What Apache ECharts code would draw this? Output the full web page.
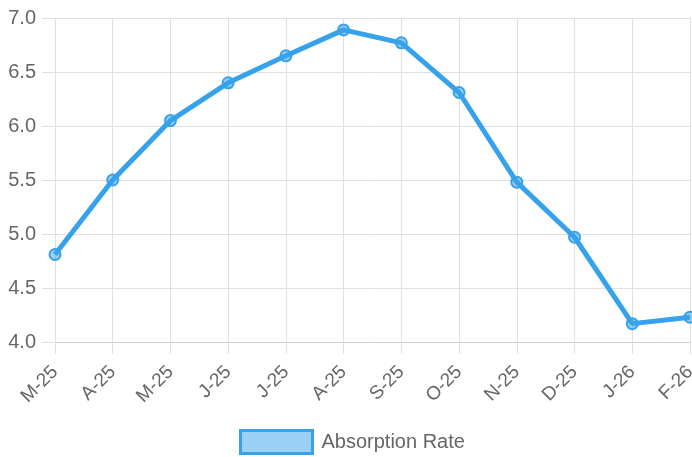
<!DOCTYPE html>
<html>
<head>
<meta charset="utf-8">
<script src="https://cdn.jsdelivr.net/npm/echarts@6/dist/echarts.min.js"></script>
<style>
  html, body { margin: 0; padding: 0; background: #fff; }
  #chart { width: 692px; height: 457px; }
</style>
</head>
<body>
<div id="chart"></div>
<script>
var months = ['M-25', 'A-25', 'M-25', 'J-25', 'J-25', 'A-25', 'S-25', 'O-25', 'N-25', 'D-25', 'J-26', 'F-26'];
var absorption = [4.81, 5.50, 6.05, 6.40, 6.65, 6.89, 6.77, 6.31, 5.48, 4.97, 4.17, 4.23];
var seriesName = 'Absorption Rate';

var chart = echarts.init(document.getElementById('chart'));
var font = 'Liberation Sans, Helvetica, Arial, sans-serif';

var option = {
  animation: false,
  grid: { left: 55, right: 2, top: 18, bottom: 115, containLabel: false, outerBoundsMode: 'none' },
  legend: {
    bottom: 2,
    left: 239,
    padding: 0,
    itemWidth: 72,
    itemHeight: 23,
    itemGap: 10,
    textStyle: { color: '#666', fontSize: 20, fontFamily: font, padding: [0, 0, 0, 4] },
    data: [{
      name: seriesName,
      icon: 'rect',
      itemStyle: { color: 'rgba(54,162,235,0.5)', borderColor: '#36a2eb', borderWidth: 3 }
    }]
  },
  xAxis: {
    type: 'category',
    data: months,
    boundaryGap: false,
    axisLine: { show: true, lineStyle: { color: '#d0d0d0', width: 1 } },
    axisTick: { show: true, length: 12, lineStyle: { color: '#e0e0e0' } },
    splitLine: { show: true, lineStyle: { color: '#e0e0e0' } },
    axisLabel: { rotate: 45, margin: 27, color: '#666', fontSize: 19, fontFamily: font, interval: 0 }
  },
  yAxis: {
    type: 'value',
    min: 4,
    max: 7,
    interval: 0.5,
    axisLine: { show: true, lineStyle: { color: '#e0e0e0' } },
    axisTick: { show: true, length: 13, lineStyle: { color: '#e0e0e0' } },
    splitLine: { show: true, lineStyle: { color: '#e0e0e0' } },
    axisLabel: {
      color: '#666', fontSize: 20, fontFamily: font, margin: 19,
      formatter: function (v) { return v.toFixed(1); }
    }
  },
  series: [{
    name: seriesName,
    type: 'line',
    data: absorption,
    symbol: 'circle',
    symbolSize: 11,
    lineStyle: { color: '#36a2eb', width: 5 },
    itemStyle: { color: 'rgba(54,162,235,0.5)', borderColor: '#36a2eb', borderWidth: 2 }
  }]
};

chart.setOption(option);
</script>
</body>
</html>
